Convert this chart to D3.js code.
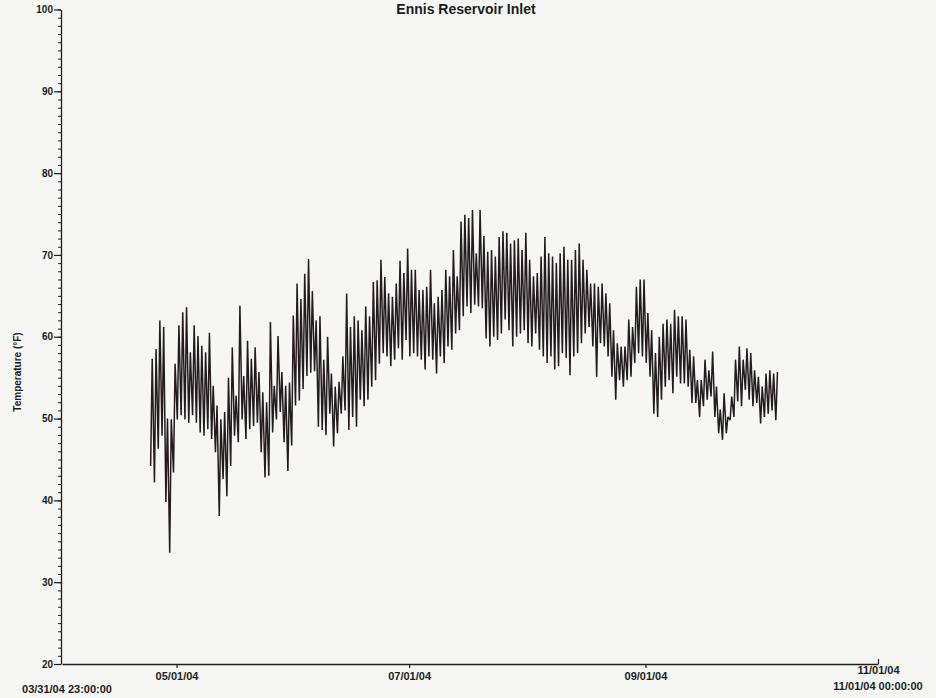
<!DOCTYPE html>
<html>
<head>
<meta charset="utf-8">
<script src="https://cdn.jsdelivr.net/npm/d3@7"></script>
<style>
  html, body { margin: 0; padding: 0; background: #f6f6f5; }
  svg { display: block; }
  text { font-family: Arial, "Liberation Sans", sans-serif; font-weight: bold; fill: #1c1c1c; }
</style>
</head>
<body>
<svg id="chart" width="936" height="698"></svg>
<script>
// ---- data (daily high / low, °F), first day 2004-04-24 ----
const title = "Ennis Reservoir Inlet";
const yLabel = "Temperature  (°F)";
const firstDay = "2004-04-24";
const dailyHigh = [
  57.3, 58.5, 62.0, 61.2, 50.0, 49.9, 56.7, 61.4, 63.0, 63.6,
  58.1, 61.4, 60.1, 58.9, 58.1, 60.5, 54.0, 51.6, 49.9, 50.8,
  55.0, 58.7, 52.8, 63.8, 55.2, 59.5, 57.3, 58.7, 55.7, 53.2,
  52.0, 61.8, 54.0, 60.1, 55.7, 54.0, 54.4, 62.6, 66.5, 64.6,
  67.7, 69.5, 65.6, 62.0, 62.5, 57.2, 60.0, 55.5, 53.9, 54.5,
  57.6, 65.3, 61.2, 62.5, 62.0, 60.8, 63.7, 62.5, 66.7, 66.9,
  69.4, 67.3, 65.3, 64.9, 66.5, 69.3, 67.8, 70.8, 68.2, 68.2,
  65.7, 65.7, 66.1, 68.2, 64.1, 64.9, 65.7, 68.2, 67.4, 70.6,
  67.4, 74.1, 74.9, 74.5, 75.5, 70.2, 75.5, 72.3, 70.4, 70.6,
  69.8, 72.2, 72.9, 72.7, 71.4, 71.8, 72.0, 70.6, 72.7, 69.4,
  67.4, 67.8, 69.8, 72.2, 70.2, 69.8, 69.0, 70.2, 71.0, 69.4,
  69.4, 70.6, 71.4, 69.4, 68.2, 66.5, 66.5, 66.1, 66.5, 65.3,
  64.1, 60.8, 59.2, 58.8, 58.8, 62.1, 61.2, 66.1, 67.0, 67.0,
  62.9, 60.8, 58.0, 60.0, 61.6, 62.1, 61.6, 63.3, 62.5, 62.5,
  62.1, 58.4, 57.6, 54.7, 54.7, 57.2, 55.9, 58.2, 53.9, 51.1,
  53.1, 50.2, 52.7, 57.2, 58.8, 57.2, 58.6, 58.0, 55.9, 55.1,
  53.9, 55.5, 55.9, 55.5, 55.7
];
const dailyLow = [
  44.2, 42.2, 46.3, 47.9, 39.8, 33.6, 43.4, 49.9, 50.4, 49.9,
  49.5, 50.4, 49.5, 48.3, 47.9, 48.7, 47.5, 45.9, 38.1, 42.6,
  40.5, 44.2, 47.9, 47.1, 49.9, 47.5, 48.7, 49.1, 49.5, 45.9,
  42.8, 43.0, 48.3, 49.9, 50.8, 47.1, 43.6, 46.7, 51.6, 52.2,
  53.6, 55.2, 55.6, 55.8, 49.0, 48.6, 48.0, 50.6, 46.6, 48.2,
  50.6, 51.0, 48.6, 50.2, 49.0, 52.3, 51.5, 52.3, 53.9, 54.7,
  56.7, 58.0, 57.6, 56.4, 57.2, 58.6, 57.2, 59.6, 57.6, 58.0,
  57.6, 57.2, 56.0, 57.6, 57.2, 55.5, 57.6, 56.8, 58.8, 58.4,
  60.4, 60.8, 62.5, 63.7, 62.9, 63.9, 63.7, 63.5, 59.8, 58.8,
  60.0, 59.6, 60.4, 62.1, 60.8, 58.8, 60.0, 60.4, 60.8, 59.2,
  58.8, 60.4, 58.4, 57.6, 56.8, 57.6, 56.0, 56.4, 58.0, 57.4,
  55.3, 57.6, 58.0, 59.2, 60.4, 61.2, 58.8, 55.1, 59.2, 58.8,
  57.6, 55.1, 52.3, 54.7, 53.9, 54.7, 55.1, 56.8, 58.0, 57.6,
  56.8, 55.1, 50.6, 50.2, 52.3, 53.9, 54.7, 53.1, 55.1, 54.3,
  54.3, 53.9, 51.9, 51.9, 50.2, 51.5, 52.3, 52.7, 50.2, 48.2,
  47.4, 48.2, 49.8, 50.2, 52.1, 51.5, 53.5, 52.3, 51.5, 51.9,
  49.4, 50.2, 50.6, 51.0, 49.8
];
const yTicks = [20, 30, 40, 50, 60, 70, 80, 90, 100];
const xTickDates = ["2004-05-01", "2004-07-01", "2004-09-01", "2004-11-01"];
const xTickLabels = ["05/01/04", "07/01/04", "09/01/04", "11/01/04"];
const xStartLabel = "03/31/04 23:00:00";
const xEndLabel = "11/01/04 00:00:00";
const xDomain = [Date.UTC(2004, 2, 31, 23), Date.UTC(2004, 10, 1, 0)];

// ---- build series ----
const DAY = 86400000, HOUR = 3600000;
const t0 = Date.parse(firstDay + "T00:00:00Z");
const series = [];
dailyHigh.forEach((h, k) => {
  series.push({ t: new Date(t0 + k * DAY + 5 * HOUR), v: dailyLow[k] });
  series.push({ t: new Date(t0 + k * DAY + 15 * HOUR), v: h });
});

// ---- scales ----
const svg = d3.select("#chart");
const x = d3.scaleUtc().domain(xDomain.map(d => new Date(d))).range([62, 878]);
const y = d3.scaleLinear().domain([20, 100]).range([664, 9.5]);
const ink = "#231b1d";

// title (near the top edge, as in reference)
svg.append("text").attr("x", 466).attr("y", 14).attr("text-anchor", "middle")
  .style("font-size", "14px").text(title);

// y axis label
svg.append("text").attr("transform", "translate(21,372) rotate(-90)")
  .attr("text-anchor", "middle").style("font-size", "10px").text(yLabel);

// minor y ticks
const minor = d3.range(20, 101, 1);
const gMinor = svg.append("g").attr("transform", "translate(61,0)")
  .call(d3.axisLeft(y).tickValues(minor).tickSize(3).tickFormat(""));
gMinor.select(".domain").remove();
gMinor.selectAll("line").attr("stroke", ink).attr("stroke-width", 1);

// major y axis
const gy = svg.append("g").attr("transform", "translate(61,0)")
  .call(d3.axisLeft(y).tickValues(yTicks).tickSize(7).tickSizeOuter(0).tickPadding(1).tickFormat(d3.format("d")));
gy.select(".domain").attr("stroke", ink).attr("stroke-width", 1.3);
gy.selectAll("line").attr("stroke", ink).attr("stroke-width", 1.2);
gy.selectAll("text").style("font-size", "10px").style("font-family", "Arial, 'Liberation Sans', sans-serif")
  .style("font-weight", "bold").attr("fill", "#1c1c1c");

// x axis
const gx = svg.append("g").attr("transform", "translate(0,664)")
  .call(d3.axisBottom(x).tickValues(xTickDates.map(d => new Date(d + "T00:00:00Z")))
    .tickSize(4).tickSizeOuter(0).tickPadding(4)
    .tickFormat((d, i) => xTickLabels[i]));
gx.select(".domain").attr("stroke", ink).attr("stroke-width", 1.3);
gx.selectAll("line").attr("stroke", ink).attr("stroke-width", 1.2);
gx.selectAll("text").style("font-size", "11px").style("font-family", "Arial, 'Liberation Sans', sans-serif")
  .style("font-weight", "bold").attr("fill", "#1c1c1c");
// last tick: pointing up, label raised so the full date-time fits below it
gx.selectAll(".tick").filter((d, i) => i === xTickLabels.length - 1).each(function () {
  const g = d3.select(this);
  g.select("line").attr("y2", -5);
  g.select("text").attr("y", 2);
});

// range labels
svg.append("text").attr("x", x(new Date(xDomain[0])) + 5).attr("y", 693).attr("text-anchor", "middle")
  .style("font-size", "11px").text(xStartLabel);
svg.append("text").attr("x", x(new Date(xDomain[1]))).attr("y", 690).attr("text-anchor", "middle")
  .style("font-size", "11px").text(xEndLabel);

// data line
const line = d3.line().x(d => x(d.t)).y(d => y(d.v));
svg.append("path").datum(series).attr("d", line)
  .attr("fill", "none").attr("stroke", ink).attr("stroke-width", 1.5).attr("stroke-linejoin", "miter").attr("stroke-miterlimit", 2);
</script>
</body>
</html>
